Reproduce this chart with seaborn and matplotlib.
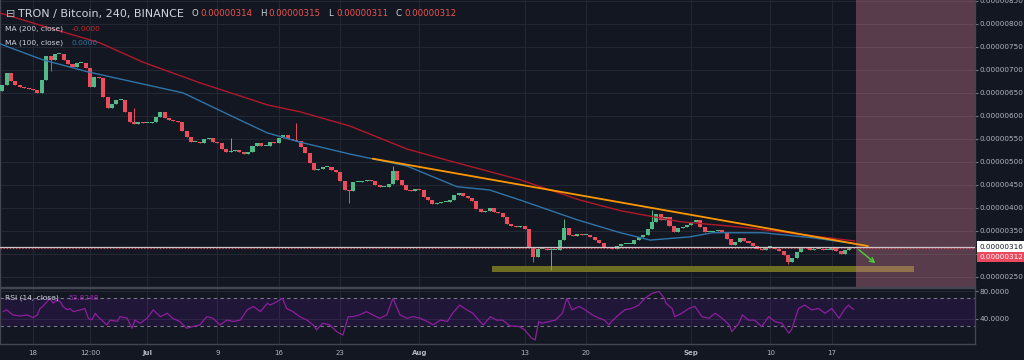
import matplotlib
matplotlib.use("Agg")
import matplotlib.pyplot as plt
import numpy as np
import seaborn as sns

# ---- data (prices in satoshi = 1e-8 BTC, time in days from 18 Jun) ----
day0 = -3.5          # first 12h candle
first_open = 655
closes = [
    667, 694, 676, 667, 663, 661, 659, 657, 650, 678,
    730, 722, 735, 735, 722, 713, 706, 715, 715, 704,
    663, 685, 683, 641, 617, 626, 635, 635, 609, 587,
    583, 587, 585, 585, 587, 598, 609, 596, 591, 589,
    587, 567, 554, 543, 543, 541, 550, 552, 543, 541,
    528, 522, 524, 526, 522, 517, 522, 535, 541, 535,
    535, 543, 541, 552, 559, 550, 548, 546, 533, 520,
    498, 483, 485, 489, 489, 483, 478, 459, 439, 437,
    457, 457, 459, 461, 459, 450, 446, 446, 452, 480,
    461, 450, 439, 437, 441, 439, 424, 417, 409, 411,
    413, 413, 417, 428, 433, 426, 422, 415, 398, 391,
    393, 400, 391, 389, 381, 365, 361, 359, 361, 354,
    313, 293, 311, 311, 309, 309, 309, 330, 357, 341,
    339, 343, 341, 341, 337, 330, 324, 315, 313, 311,
    317, 322, 322, 322, 330, 337, 341, 354, 370, 387,
    374, 380, 361, 348, 357, 359, 363, 370, 374, 359,
    348, 348, 350, 352, 348, 333, 320, 326, 335, 328,
    324, 317, 311, 309, 315, 315, 311, 306, 298, 283,
    291, 304, 315, 313, 309, 311, 311, 309, 309, 313,
    306, 300, 309, 315, 312,
]
spike_hi_idx = [30, 52, 67, 89, 128, 148]
spike_hi = [617, 552, 585, 491, 376, 396]
spike_lo_idx = [11, 79, 121, 125, 179]
spike_lo = [698, 411, 283, 265, 278]

ma200_day = [-3.8, 1.9, 7.6, 12.5, 19.0, 26.7, 30.4, 36.1, 42.6, 47.5, 55.5,
             62.3, 66.9, 73.7, 81.3, 88.8, 93.6]
ma200 = [824, 791, 759, 717, 672, 624, 609, 578, 528, 502, 461,
         417, 394, 370, 357, 339, 328]
ma100_day = [-3.8, 1.1, 6.2, 11.4, 17.1, 22.8, 26.7, 30.4, 36.1, 42.6, 48.3,
             52.0, 55.5, 62.0, 66.9, 70.3, 74.8, 77.4, 83.1, 88.8, 93.6]
ma100 = [757, 722, 696, 674, 650, 598, 563, 543, 517, 491, 446,
         439, 417, 374, 346, 330, 337, 346, 346, 335, 322]

rsi_day = [-3.4, -3.0, -2.3, -1.5, -0.7, 0.0, 0.5, 0.8, 1.1, 1.6,
           1.9, 2.3, 2.7, 3.1, 3.4, 3.9, 4.2, 4.6, 5.4, 5.9,
           6.3, 6.7, 7.1, 7.4, 8.0, 8.4, 8.8, 9.6, 9.9, 10.7,
           11.3, 11.6, 12.2, 13.0, 13.7, 14.5, 15.3, 15.9, 16.7, 17.5,
           18.2, 19.0, 19.8, 20.5, 21.3, 22.1, 22.8, 23.6, 24.4, 25.1,
           25.9, 26.7, 27.0, 27.8, 28.4, 28.9, 29.6, 30.4, 31.2, 31.9,
           32.3, 33.0, 33.8, 34.6, 35.3, 35.9, 36.4, 37.2, 38.0, 38.7,
           39.5, 40.3, 41.0, 41.5, 41.8, 42.6, 43.3, 44.1, 44.9, 45.6,
           46.4, 47.2, 47.8, 48.6, 49.4, 50.1, 50.9, 51.3, 52.1, 52.8,
           53.5, 54.3, 55.4, 56.0, 56.8, 57.2, 57.6, 58.0, 58.8, 59.5,
           60.3, 60.8, 61.4, 62.2, 62.9, 63.7, 64.5, 65.1, 65.6, 65.9,
           66.7, 67.4, 68.2, 69.0, 69.7, 70.5, 71.3, 71.9, 72.1, 72.8,
           73.1, 73.9, 74.7, 75.4, 76.2, 77.0, 77.7, 78.5, 79.3, 79.6,
           80.4, 80.8, 81.5, 82.2, 83.0, 83.8, 84.5, 85.3, 86.1, 86.4,
           87.2, 87.9, 88.7, 89.5, 90.2, 91.0, 91.8, 92.4, 92.9, 93.3,
           93.5]
rsi_val = [50.5, 53, 45.6, 44, 45.6, 41.7, 45.6, 55, 58, 65,
           70, 62.7, 67.6, 65, 58, 53, 55, 50.5, 53, 55,
           40.7, 38.3, 48, 43, 36, 31, 38, 36, 43, 41,
           26, 38, 33.4, 40.7, 53, 43, 48, 40.7, 36, 26,
           28.5, 31, 43, 40.7, 31, 38, 36, 38, 53, 58,
           50.5, 62.7, 60, 65, 70, 55, 50.5, 43, 38, 31,
           23.7, 33.4, 31, 21, 16, 43, 43, 45.6, 50.5, 45.6,
           40.7, 45.6, 70, 55, 45.6, 40.7, 43, 40.7, 36, 31,
           38, 36, 48, 60, 53, 48, 36, 31, 43, 38,
           38, 29.5, 28.5, 23.7, 11.5, 9, 36, 33.4, 36, 38,
           48, 70, 53, 58, 53, 45.6, 40.7, 38, 31, 36,
           45.6, 53, 55, 60, 70, 77, 80, 70, 62.7, 55,
           43, 48, 55, 58, 43, 40.7, 48, 40.7, 31, 21,
           33.4, 45.6, 38, 38, 28.5, 43, 36, 33.4, 18.8, 23.7,
           55, 60, 53, 55, 48, 55, 40.7, 53, 60, 55,
           54]

# drawings on the chart
trend_day = [38.7, 95.1]
trend_price = [507, 317]
arrow_day = [93.8, 96.2]
arrow_price = [313, 276]
band_day = [52.3, 100.3]
band_price = [261, 274]
zone_start = 93.7
line_white = 316
last_price = 312
quote = [("O", "0.00000314"), ("H", "0.00000315"), ("L", "0.00000311"), ("C", "0.00000312")]

tick_days = [0, 6.5, 13, 21, 28, 35, 44, 56, 63, 75, 84, 91]
tick_labels = ["18", "12:00", "Jul", "9", "16", "23", "Aug", "13", "20", "Sep", "10", "17"]
price_ticks = list(range(250, 851, 50))

# ---- style ----
BG = "#131722"
GRID = "#242834"
TXT = "#b2b5be"
AXL = "#434651"
UP = "#53b987"
DN = "#eb4d5c"

sns.set_theme(style="dark", rc={"axes.facecolor": BG, "figure.facecolor": BG})
plt.rcParams["font.family"] = ["DejaVu Sans"]

fig = plt.figure(figsize=(10.24, 3.6), dpi=100)
ax = fig.add_axes([0, 1 - 287 / 360, 975 / 1024, 287 / 360])
rx = fig.add_axes([0, 1 - 344 / 360, 975 / 1024, 56 / 360])
xlim = (-3.76, 107.3)

# ---- candles ----
c = np.array(closes, float)
o = np.r_[first_open, c[:-1]]
d = day0 + 0.5 * np.arange(len(c))
hi = np.maximum(o, c)
lo = np.minimum(o, c)
hi[spike_hi_idx] = spike_hi
lo[spike_lo_idx] = spike_lo
cols = np.where(c >= o, UP, DN)
h = c - o
h = np.where(np.abs(h) < 2, 2, h)

ax.vlines(d, lo, hi, colors=cols, lw=0.7, zorder=3)
ax.bar(d, h, bottom=o, width=0.46, color=cols, lw=0, zorder=3)

sns.lineplot(x=ma100_day, y=ma100, ax=ax, color="#2f74a8", lw=1, zorder=4)
sns.lineplot(x=ma200_day, y=ma200, ax=ax, color="#b3182a", lw=1, zorder=4)

ax.fill_between(band_day, band_price[0], band_price[1], color="#6e6e22", lw=0, zorder=2)
ax.axvspan(zone_start, 120, color="#c8788c", alpha=0.39, lw=0, zorder=2.5)
ax.axhline(line_white, color="#c9cbd1", lw=0.9, zorder=4)
ax.axhline(last_price, color=DN, lw=0.9, ls=(0, (1, 1.5)), zorder=4)
ax.plot(trend_day, trend_price, color="#ff9800", lw=1.3, zorder=5)
ax.annotate("", xy=(arrow_day[1], arrow_price[1]), xytext=(arrow_day[0], arrow_price[0]),
            arrowprops=dict(arrowstyle="->", color="#4cd137", lw=1, mutation_scale=8), zorder=5)

ax.set_xlim(*xlim)
ax.set_ylim(228, 852)
ax.set_xticks(tick_days)
ax.set_yticks(price_ticks)
ax.set_yticklabels(["" if p == 300 else f"{p * 1e-8:.8f}" for p in price_ticks])
ax.yaxis.tick_right()
ax.grid(True, color=GRID, lw=0.8)
ax.tick_params(axis="x", length=0, labelbottom=False)
ax.tick_params(axis="y", direction="out", length=2.5, width=0.8, color="#787b86",
               labelcolor=TXT, labelsize=5.2, pad=1)
ax.set_xlabel("")
ax.set_ylabel("")
ax.spines["top"].set_visible(False)
for s in ["right", "bottom", "left"]:
    ax.spines[s].set_color(AXL)
    ax.spines[s].set_linewidth(1)

# price boxes on the axis
ax.annotate(f"{line_white * 1e-8:.8f}", xy=(1, line_white), xycoords=("axes fraction", "data"),
            xytext=(3, 0), textcoords="offset points", va="center", ha="left",
            fontsize=5.2, color=BG, annotation_clip=False,
            bbox=dict(boxstyle="square,pad=0.3", fc="white", ec="none"))
ax.annotate(f"{last_price * 1e-8:.8f}", xy=(1, last_price), xycoords=("axes fraction", "data"),
            xytext=(3, -6.2), textcoords="offset points", va="center", ha="left",
            fontsize=5.2, color="white", annotation_clip=False,
            bbox=dict(boxstyle="square,pad=0.3", fc="#ea4a5c", ec="none"))

# ---- RSI ----
rx.axhspan(30, 70, color="#9915ff", alpha=0.1, lw=0)
for lvl in (30, 70):
    rx.axhline(lvl, color="#787b86", lw=0.8, ls=(0, (3, 3)))
sns.lineplot(x=rsi_day, y=rsi_val, ax=rx, color="#8e1e9e", lw=0.9)
rx.set_xlim(*xlim)
rx.set_ylim(3, 85)
rx.set_xticks(tick_days)
rx.set_xticklabels(tick_labels)
for t in rx.get_xticklabels():
    if t.get_text() in ("Jul", "Aug", "Sep"):
        t.set_fontweight("bold")
rx.set_yticks([40, 80])
rx.set_yticklabels(["40.0000", "80.0000"])
rx.yaxis.tick_right()
rx.grid(True, color=GRID, lw=0.8)
rx.tick_params(axis="x", length=0, labelsize=5, labelcolor=TXT, pad=4)
rx.tick_params(axis="y", direction="out", length=2.5, width=0.8, color="#787b86",
               labelcolor=TXT, labelsize=5.2, pad=1)
rx.set_xlabel("")
rx.set_ylabel("")
for s in ["right", "bottom", "left", "top"]:
    rx.spines[s].set_color(AXL)
    rx.spines[s].set_linewidth(1)

# ---- header texts ----
def ftext(x, y, s, **kw):
    fig.text(x / 1024, 1 - y / 360, s, va="center", ha="left", **kw)

ftext(6, 14, "\u229f", fontsize=8, color=TXT)
ftext(18, 14, "TRON / Bitcoin, 240, BINANCE", fontsize=8, color="#d1d4dc")
for k, (lab, val) in enumerate(quote):
    x0 = 192 + 68 * k
    ftext(x0, 14, lab, fontsize=6.2, color="#d1d4dc")
    ftext(x0 + 8, 14, val, fontsize=6.2, color="#ef5350")
ftext(5, 29, "MA (200, close)", fontsize=5.4, color="#d1d4dc")
ftext(72, 29, "-0.0000", fontsize=5.4, color="#c62828")
ftext(5, 43, "MA (100, close)", fontsize=5.4, color="#d1d4dc")
ftext(72, 43, "0.0000", fontsize=5.4, color="#2f74a8")
ftext(5, 298, "RSI (14, close)", fontsize=5.4, color="#d1d4dc")
ftext(68, 298, "53.8248", fontsize=5.4, color="#9c27b0")

fig.savefig("out.png", dpi=100, facecolor=BG)
